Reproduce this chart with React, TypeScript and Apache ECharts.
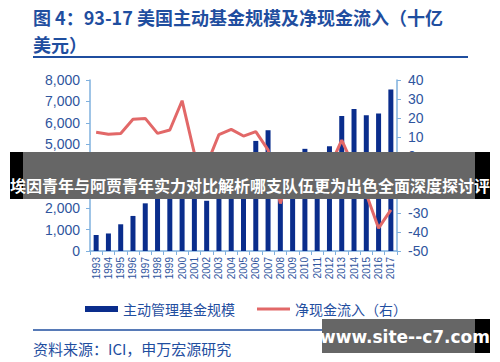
import React, { useEffect, useRef } from 'react';
import * as echarts from 'echarts';

const years = ['1993','1994','1995','1996','1997','1998','1999','2000','2001','2002','2003','2004','2005','2006','2007','2008','2009','2010','2011','2012','2013','2014','2015','2016','2017'];
const activeAum = [750, 820, 1250, 1640, 2230, 3100, 3690, 3560, 3100, 2350, 3320, 3750, 4330, 5150, 5650, 3000, 3940, 4780, 4380, 4900, 6310, 6640, 6350, 6430, 7560];
const netFlow = [12.5, 11.5, 11.9, 19.3, 19.8, 11.9, 13.7, 29.1, 1.4, -4.7, 11.3, 14.0, 10.5, 12.8, 3.2, -25.0, -3.0, -5.6, -16.0, -6.0, 8.4, -6.0, -20.0, -38.0, -28.4];

const leftMin = 0, leftMax = 8000, leftInterval = 1000;
const rightMin = -50, rightMax = 40, rightInterval = 10;

const titleLine1 = '图 4：93-17 美国主动基金规模及净现金流入（十亿';
const titleLine2 = '美元）';
const barName = '主动管理基金规模';
const lineName = '净现金流入（右）';
const sourceText = '资料来源：ICI，申万宏源研究';
const bannerText = '埃因青年与阿贾青年实力对比解析哪支队伍更为出色全面深度探讨评';
const watermarkText = 'www.site--c7.com';

const BLUE_TEXT = '#1F4E9F';
const LABEL = '#2F559E';
const AXIS = '#7FB0DE';
const BAR = '#0A2D8C';
const LINE = '#E26868';
const FONT = '"Liberation Sans", Arial, "Noto Sans CJK SC", sans-serif';
const CJK = '"Noto Sans CJK SC", "Noto Sans", sans-serif';

export default function App() {
  const ref = useRef<HTMLDivElement>(null);
  useEffect(() => {
    if (!ref.current) return;
    const chart = echarts.init(ref.current, undefined, { renderer: 'svg' });
    chart.setOption({
      animation: false,
      backgroundColor: '#ffffff',
      grid: { left: 90, right: 103, top: 80, bottom: 111, containLabel: false },
      legend: {
        left: 80,
        top: 297,
        itemWidth: 33,
        itemHeight: 6,
        itemGap: 22,
        textStyle: { fontSize: 14, color: BLUE_TEXT, fontFamily: CJK },
        data: [
          { name: barName, icon: 'rect' },
          { name: lineName, icon: 'path://M0 0 L33 0 L33 3 L0 3 Z' },
        ],
      },
      xAxis: {
        type: 'category',
        data: years,
        axisLine: { lineStyle: { color: AXIS, width: 1.5 } },
        axisTick: { show: true, length: 4, lineStyle: { color: AXIS, width: 1 } },
        axisLabel: { rotate: 90, fontSize: 10, color: LABEL, fontFamily: FONT, margin: 6, interval: 0 },
      },
      yAxis: [
        {
          type: 'value',
          min: leftMin,
          max: leftMax,
          interval: leftInterval,
          position: 'left',
          splitLine: { show: false },
          axisLine: { show: true, lineStyle: { color: AXIS, width: 1.5 } },
          axisTick: { show: true, length: 4, lineStyle: { color: AXIS } },
          axisLabel: {
            fontSize: 14,
            color: LABEL,
            fontFamily: FONT,
            margin: 10,
            formatter: (v: number) => v.toLocaleString('en-US'),
          },
        },
        {
          type: 'value',
          min: rightMin,
          max: rightMax,
          interval: rightInterval,
          position: 'right',
          splitLine: { show: false },
          axisLine: { show: true, lineStyle: { color: AXIS, width: 1.5 } },
          axisTick: { show: true, length: 4, lineStyle: { color: AXIS } },
          axisLabel: { fontSize: 14, color: LABEL, fontFamily: FONT, margin: 11 },
        },
      ],
      series: [
        {
          name: barName,
          type: 'bar',
          yAxisIndex: 0,
          data: activeAum,
          barWidth: 5,
          itemStyle: { color: BAR },
        },
        {
          name: lineName,
          type: 'line',
          yAxisIndex: 1,
          data: netFlow,
          symbol: 'none',
          lineStyle: { color: LINE, width: 3 },
          itemStyle: { color: LINE },
          z: 5,
        },
      ],
      graphic: [
        {
          type: 'text',
          left: 33,
          top: 8,
          style: { text: titleLine1, fill: BLUE_TEXT, fontSize: 18, fontWeight: 'bold', fontFamily: CJK },
        },
        {
          type: 'text',
          left: 33,
          top: 35,
          style: { text: titleLine2, fill: BLUE_TEXT, fontSize: 18, fontWeight: 'bold', fontFamily: CJK },
        },
        {
          type: 'line',
          shape: { x1: 33, y1: 57, x2: 468, y2: 57 },
          style: { stroke: BLUE_TEXT, lineWidth: 2 },
        },
        {
          type: 'line',
          shape: { x1: 33, y1: 330, x2: 468, y2: 330 },
          style: { stroke: BLUE_TEXT, lineWidth: 1.5 },
        },
        {
          type: 'text',
          left: 33,
          top: 341,
          style: { text: sourceText, fill: BLUE_TEXT, fontSize: 15, fontFamily: CJK },
        },
        {
          type: 'rect',
          shape: { x: 10, y: 152, width: 480, height: 47 },
          style: { fill: '#000000' },
          z: 100,
        },
        {
          type: 'rect',
          shape: { x: 23, y: 152, width: 452, height: 47 },
          style: { fill: 'rgba(255,255,255,0.4)' },
          z: 101,
        },
        {
          type: 'text',
          x: 250,
          y: 185,
          style: {
            text: bannerText,
            fill: '#ffffff',
            fontSize: 16,
            fontWeight: 'bold',
            fontFamily: CJK,
            align: 'center',
            verticalAlign: 'middle',
          },
          z: 102,
        },
        {
          type: 'rect',
          shape: { x: 322, y: 319, width: 168, height: 34 },
          style: { fill: '#000000' },
          z: 100,
        },
        {
          type: 'rect',
          shape: { x: 322, y: 319, width: 153, height: 34 },
          style: { fill: 'rgba(255,255,255,0.4)' },
          z: 101,
        },
        {
          type: 'text',
          x: 405,
          y: 337,
          style: {
            text: watermarkText,
            fill: '#ffffff',
            fontSize: 17,
            fontWeight: 'bold',
            fontFamily: '"DejaVu Sans", sans-serif',
            align: 'center',
            verticalAlign: 'middle',
          },
          z: 102,
        },
      ],
    });
    return () => chart.dispose();
  }, []);
  return (
    <div
      ref={ref}
      style={{ position: 'absolute', left: 0, top: 0, width: 500, height: 362, background: '#fff' }}
    />
  );
}
